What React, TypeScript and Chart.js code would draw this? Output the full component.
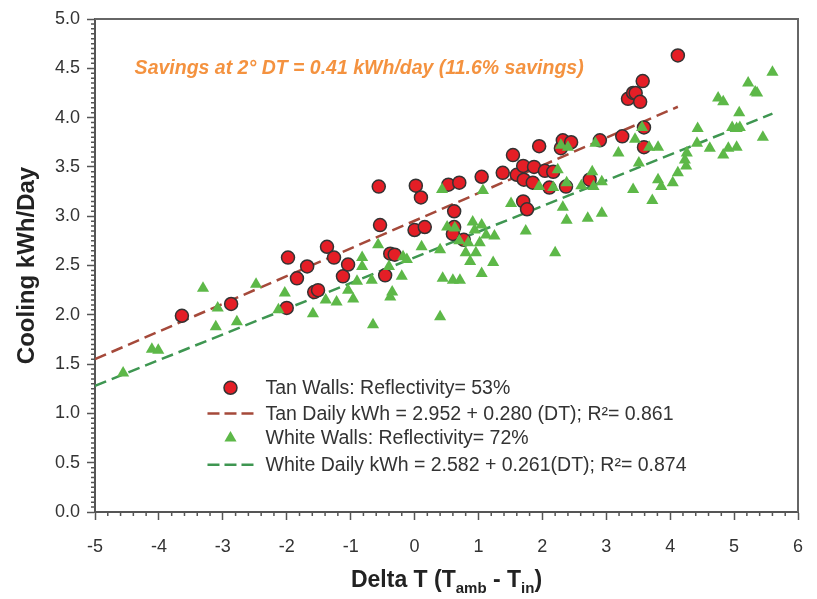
import React, { useEffect, useRef } from "react";
import { Chart, registerables } from "chart.js";

Chart.register(...registerables);

// ---- Data ----
const tanX = [
  -3.64, -2.87, -2.0, -1.98, -1.84, -1.68, -1.57, -1.51, -1.37, -1.26, -1.12, -1.04,
  -0.56, -0.54, -0.46, -0.38, -0.31, 0.0, 0.02, 0.1, 0.16, 0.53, 0.62, 0.62, 0.6, 0.7,
  0.77, 1.05, 1.38, 1.54, 1.6, 1.7, 1.71, 1.7, 1.76, 1.85, 1.87, 1.95, 2.04, 2.11, 2.17,
  2.29, 2.32, 2.37, 2.45, 2.74, 2.9, 3.25, 3.34, 3.42, 3.46, 3.53, 3.57, 3.59, 3.59, 4.12,
];
const tanY = [
  1.99, 2.11, 2.07, 2.58, 2.37, 2.49, 2.23, 2.25, 2.69, 2.58, 2.39, 2.51,
  3.3, 2.91, 2.4, 2.62, 2.61, 2.86, 3.31, 3.19, 2.89, 3.32, 3.05, 2.89, 2.82, 3.34,
  2.76, 3.4, 3.44, 3.62, 3.42, 3.51, 3.37, 3.15, 3.07, 3.34, 3.5, 3.71, 3.46, 3.29, 3.45,
  3.69, 3.77, 3.3, 3.75, 3.37, 3.77, 3.81, 4.19, 4.25, 4.25, 4.16, 4.37, 3.9, 3.7, 4.63,
];

const whiteX = [
  -4.56, -4.11, -4.01, -3.31, -3.11, -3.08, -2.78, -2.48, -2.13, -2.03, -1.59, -1.39,
  -1.22, -1.04, -0.96, -0.9, -0.82, -0.82, -0.67, -0.65, -0.57, -0.4, -0.38, -0.35,
  -0.2, -0.18, -0.12, 0.11, 0.4, 0.4, 0.43, 0.44, 0.51, 0.6, 0.63, 0.7, 0.71, 0.8,
  0.84, 0.87, 0.91, 0.94, 0.96, 1.02, 1.05, 1.05, 1.07, 1.12, 1.23, 1.25, 1.51, 1.74,
  1.95, 2.17, 2.2, 2.24, 2.29, 2.32, 2.38, 2.38, 2.4, 2.61, 2.71, 2.78, 2.8, 2.83,
  2.93, 2.93, 3.19, 3.42, 3.45, 3.51, 3.56, 3.67, 3.72, 3.81, 3.81, 3.86, 4.04, 4.12,
  4.23, 4.25, 4.26, 4.42, 4.43, 4.62, 4.75, 4.83, 4.83, 4.91, 4.97, 5.04, 5.04, 5.08,
  5.09, 5.22, 5.33, 5.36, 5.45, 5.6,
];
const whiteY = [
  1.41, 1.65, 1.64, 2.27, 1.88, 2.07, 1.93, 2.31, 2.05, 2.22, 2.01, 2.15,
  2.13, 2.25, 2.16, 2.34, 2.49, 2.58, 2.35, 1.9, 2.71, 2.49, 2.18, 2.23,
  2.39, 2.59, 2.56, 2.69, 1.98, 2.66, 3.27, 2.37, 2.89, 2.35, 2.88, 2.75, 2.35, 2.63,
  2.73, 2.54, 2.94, 2.86, 2.63, 2.73, 2.91, 2.42, 3.26, 2.81, 2.53, 2.8, 3.13, 2.85,
  3.3, 3.29, 2.63, 3.47, 3.72, 3.09, 3.34, 2.96, 3.7, 3.31, 2.98, 3.45, 3.3, 3.74,
  3.35, 3.03, 3.64, 3.27, 3.78, 3.54, 3.9, 3.7, 3.16, 3.37, 3.7, 3.3, 3.34, 3.44,
  3.57, 3.51, 3.64, 3.74, 3.89, 3.69, 4.2, 4.16, 3.62, 3.69, 3.9, 3.89, 3.7, 4.05,
  3.9, 4.35, 4.26, 4.25, 3.8, 4.46,
];

// Trend line end points (as drawn in the reference)
const tanFitX = [-5, 4.12];
const tanFitY = [1.55, 4.11];
const whiteFitX = [-5, 5.6];
const whiteFitY = [1.28, 4.04];

const legendLabels = [
  "Tan Walls: Reflectivity= 53%",
  "Tan Daily kWh = 2.952 + 0.280 (DT); R\u00B2= 0.861",
  "White Walls: Reflectivity= 72%",
  "White Daily kWh = 2.582 + 0.261(DT); R\u00B2= 0.874",
];
const annotationText = "Savings at 2\u00B0 DT = 0.41 kWh/day (11.6% savings)";
const yTitle = "Cooling kWh/Day";

const FONT = "'Liberation Sans', Arial, Helvetica, sans-serif";
const RED = "#E41E26";
const RED_EDGE = "#333333";
const GREEN = "#5DB848";
const TAN_LINE = "#A5493A";
const GREEN_LINE = "#3E9651";
const ORANGE = "#F4923F";
const TEXT = "#333333";
const AXIS = "#555555";

const pts = (xs: number[], ys: number[]) => xs.map((x, i) => ({ x, y: ys[i] }));

const decorPlugin = {
  id: "decor",
  afterDraw(chart: any) {
    const { ctx, chartArea: ca, scales } = chart;
    const xs = scales.x;
    const ys = scales.y;
    ctx.save();

    // top & right frame
    ctx.strokeStyle = "#666666";
    ctx.lineWidth = 2;
    ctx.beginPath();
    ctx.moveTo(ca.left, ca.top);
    ctx.lineTo(ca.right, ca.top);
    ctx.lineTo(ca.right, ca.bottom);
    ctx.stroke();

    // minor ticks
    ctx.strokeStyle = AXIS;
    ctx.lineWidth = 1.5;
    ctx.beginPath();
    for (let i = 0; i <= 55; i++) {
      if (i % 5 === 0) continue;
      const px = xs.getPixelForValue(-5 + i * 0.2);
      ctx.moveTo(px, ca.bottom);
      ctx.lineTo(px, ca.bottom + 4);
    }
    for (let i = 0; i <= 100; i++) {
      if (i % 10 === 0) continue;
      const py = ys.getPixelForValue(i * 0.05);
      ctx.moveTo(ca.left - 4, py);
      ctx.lineTo(ca.left, py);
    }
    ctx.stroke();

    // annotation
    ctx.fillStyle = ORANGE;
    ctx.font = `italic bold 19.5px ${FONT}`;
    ctx.textAlign = "left";
    ctx.textBaseline = "middle";
    ctx.fillText(annotationText, xs.getPixelForValue(-4.38), ys.getPixelForValue(4.5));

    // legend
    const lx = xs.getPixelForValue(-2.88);
    const rows = [1.26, 1.0, 0.75, 0.48].map((v) => ys.getPixelForValue(v));
    ctx.font = `19.5px ${FONT}`;
    ctx.textBaseline = "middle";
    // row 0: red circle
    ctx.beginPath();
    ctx.arc(lx, rows[0], 6.5, 0, Math.PI * 2);
    ctx.fillStyle = RED;
    ctx.fill();
    ctx.lineWidth = 1.5;
    ctx.strokeStyle = RED_EDGE;
    ctx.stroke();
    // row 1: tan dashed line
    ctx.setLineDash([12, 5]);
    ctx.lineWidth = 2.5;
    ctx.strokeStyle = TAN_LINE;
    ctx.beginPath();
    ctx.moveTo(lx - 23, rows[1]);
    ctx.lineTo(lx + 23, rows[1]);
    ctx.stroke();
    // row 3: green dashed line
    ctx.strokeStyle = GREEN_LINE;
    ctx.beginPath();
    ctx.moveTo(lx - 23, rows[3]);
    ctx.lineTo(lx + 23, rows[3]);
    ctx.stroke();
    ctx.setLineDash([]);
    // row 2: green triangle
    const r = 7;
    ctx.fillStyle = GREEN;
    ctx.beginPath();
    ctx.moveTo(lx, rows[2] - r);
    ctx.lineTo(lx + r * 0.866, rows[2] + r * 0.5);
    ctx.lineTo(lx - r * 0.866, rows[2] + r * 0.5);
    ctx.closePath();
    ctx.fill();
    ctx.fillStyle = TEXT;
    legendLabels.forEach((t, i) => ctx.fillText(t, lx + 35, rows[i] + 1));

    // y axis title
    ctx.save();
    ctx.translate(27, (ca.top + ca.bottom) / 2);
    ctx.rotate(-Math.PI / 2);
    ctx.font = `bold 24px ${FONT}`;
    ctx.fillStyle = "#222222";
    ctx.textAlign = "center";
    ctx.textBaseline = "middle";
    ctx.fillText(yTitle, 0, 0);
    ctx.restore();

    // x axis title with subscripts
    const parts: [string, boolean][] = [
      ["Delta T (T", false],
      ["amb", true],
      [" - T", false],
      ["in", true],
      [")", false],
    ];
    const big = `bold 23px ${FONT}`;
    const small = `bold 15px ${FONT}`;
    let total = 0;
    parts.forEach(([t, s]) => {
      ctx.font = s ? small : big;
      total += ctx.measureText(t).width;
    });
    let cx = (ca.left + ca.right) / 2 - total / 2;
    const base = 587;
    ctx.fillStyle = "#222222";
    ctx.textAlign = "left";
    ctx.textBaseline = "alphabetic";
    parts.forEach(([t, s]) => {
      ctx.font = s ? small : big;
      ctx.fillText(t, cx, s ? base + 6 : base);
      cx += ctx.measureText(t).width;
    });

    ctx.restore();
  },
};

export default function App() {
  const ref = useRef<HTMLCanvasElement | null>(null);

  useEffect(() => {
    if (!ref.current) return;
    const chart = new Chart(ref.current, {
      type: "scatter",
      data: {
        datasets: [
          {
            label: "White Walls",
            data: pts(whiteX, whiteY),
            pointStyle: "triangle",
            pointRadius: 7,
            backgroundColor: GREEN,
            borderWidth: 0,
            order: 0,
          },
          {
            label: "Tan Walls",
            data: pts(tanX, tanY),
            pointStyle: "circle",
            pointRadius: 6.5,
            backgroundColor: RED,
            borderColor: RED_EDGE,
            borderWidth: 1.5,
            order: 1,
          },
          {
            type: "line",
            label: "White fit",
            data: pts(whiteFitX, whiteFitY),
            borderColor: GREEN_LINE,
            borderWidth: 2.5,
            borderDash: [12, 6],
            pointRadius: 0,
            fill: false,
            order: 2,
          },
          {
            type: "line",
            label: "Tan fit",
            data: pts(tanFitX, tanFitY),
            borderColor: TAN_LINE,
            borderWidth: 2.5,
            borderDash: [12, 6],
            pointRadius: 0,
            fill: false,
            order: 3,
          },
        ] as any,
      },
      options: {
        animation: false,
        responsive: false,
        layout: { padding: { left: 0, top: 19, right: 19, bottom: 0 } },
        plugins: { legend: { display: false }, tooltip: { enabled: false } },
        scales: {
          x: {
            type: "linear",
            min: -5,
            max: 6,
            ticks: {
              stepSize: 1,
              color: TEXT,
              font: { family: FONT, size: 18 },
              padding: 16,
              maxRotation: 0,
              autoSkip: false,
            },
            grid: {
              display: true,
              drawOnChartArea: false,
              drawTicks: true,
              tickLength: 8,
              tickWidth: 1.5,
              tickColor: AXIS,
            },
            border: { display: true, color: AXIS, width: 2 },
            afterFit: (s: any) => {
              s.height = 87;
              s.paddingLeft = 0;
              s.paddingRight = 0;
            },
          },
          y: {
            type: "linear",
            min: 0,
            max: 5,
            ticks: {
              stepSize: 0.5,
              color: TEXT,
              font: { family: FONT, size: 18 },
              padding: 7,
              callback: (v: any) => Number(v).toFixed(1),
            },
            grid: {
              display: true,
              drawOnChartArea: false,
              drawTicks: true,
              tickLength: 8,
              tickWidth: 1.5,
              tickColor: AXIS,
            },
            border: { display: true, color: AXIS, width: 2 },
            afterFit: (s: any) => {
              s.width = 95;
            },
          },
        },
      } as any,
      plugins: [decorPlugin],
    });
    return () => chart.destroy();
  }, []);

  return (
    <div
      style={{
        position: "fixed",
        left: 0,
        top: 0,
        width: 817,
        height: 599,
        background: "#ffffff",
      }}
    >
      <canvas ref={ref} width={817} height={599} style={{ display: "block" }} />
    </div>
  );
}
